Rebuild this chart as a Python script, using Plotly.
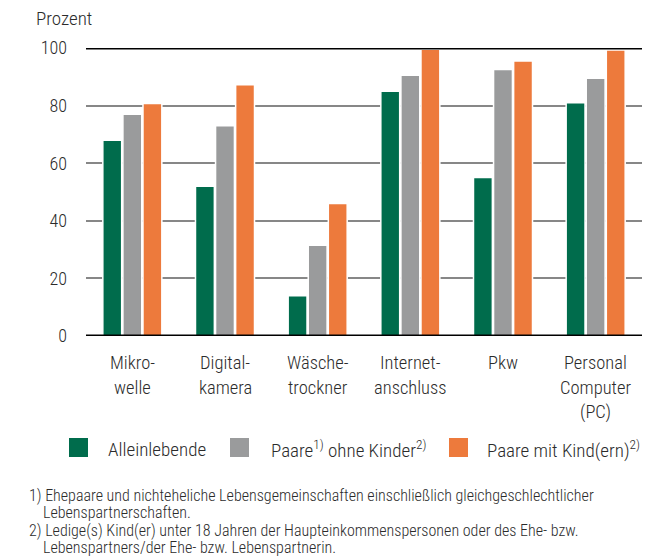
import plotly.graph_objects as go

categories = ["Mikrowelle", "Digitalkamera", "Wäschetrockner", "Internetanschluss", "Pkw", "Personal Computer (PC)"]
label_lines = [["Mikro-", "welle"], ["Digital-", "kamera"], ["Wäsche-", "trockner"],
               ["Internet-", "anschluss"], ["Pkw"], ["Personal", "Computer", "(PC)"]]
series_names = ["Alleinlebende", "Paare<sup>1)</sup> ohne Kinder<sup>2)</sup>", "Paare mit Kind(ern)<sup>2)</sup>"]
alleinlebende = [68, 52, 14, 85, 55, 81]
paare_ohne = [77, 73, 31.5, 90.5, 92.5, 89.5]
paare_mit = [80.7, 87.2, 46, 99.6, 95.5, 99.3]
y_ticks = [0, 20, 40, 60, 80, 100]
footnotes = [
    ("1) Ehepaare und nichteheliche Lebensgemeinschaften einschließlich gleichgeschlechtlicher", 0),
    ("Lebenspartnerschaften.", 1),
    ("2) Ledige(s) Kind(er) unter 18 Jahren der Haupteinkommenspersonen oder des Ehe- bzw.", 0),
    ("Lebenspartners/der Ehe- bzw. Lebenspartnerin.", 1),
]

colors = ["#006c4c", "#9a9b9c", "#ed7a3c"]
FONT = "Roboto Condensed, Open Sans, sans-serif"
TXT = "#2b2b2b"

W, H = 667, 559
L, R, T, B = 86, 25, 48, 223
pw, ph = W - L - R, H - T - B

def px_x(x):
    return (x - L) / pw

def px_y(y):
    return (H - B - y) / ph

def fnt(size):
    return dict(size=size, color=TXT, family=FONT, weight=300)

fig = go.Figure()
for name, vals, c in zip(series_names, [alleinlebende, paare_ohne, paare_mit], colors):
    fig.add_trace(go.Bar(x=categories, y=vals, name=name, showlegend=False,
                         marker=dict(color=c, line=dict(color="white", width=1.5))))

shapes = []
for yv in (0, 100):
    shapes.append(dict(type="line", xref="paper", yref="y", x0=0, x1=1, y0=yv, y1=yv,
                       line=dict(color="black", width=3), layer="above"))

annotations = [dict(text="Prozent", xref="paper", yref="paper", x=px_x(34), y=px_y(18.5),
                    xanchor="left", yanchor="middle", showarrow=False, font=fnt(19))]
for cat, lines in zip(categories, label_lines):
    for i, ln in enumerate(lines):
        annotations.append(dict(text=ln, xref="x", yref="paper", x=cat, y=px_y(363 + 24.5 * i),
                                xanchor="center", yanchor="middle", showarrow=False, font=fnt(18.5)))

# legend (custom, to match layout)
legend_box_x = [69, 230, 449]
legend_text_x = [105.5, 269, 485]
for name, c, bx, tx in zip(series_names, colors, legend_box_x, legend_text_x):
    shapes.append(dict(type="rect", xref="paper", yref="paper",
                       x0=px_x(bx), x1=px_x(bx + 19), y0=px_y(438), y1=px_y(457),
                       fillcolor=c, line=dict(width=0)))
    annotations.append(dict(text=name, xref="paper", yref="paper", x=px_x(tx), y=px_y(449),
                            xanchor="left", yanchor="middle", showarrow=False, font=fnt(19)))

for i, (ln, indent) in enumerate(footnotes):
    annotations.append(dict(text=ln, xref="paper", yref="paper",
                            x=px_x(27 if indent == 0 else 41), y=px_y(495 + 17.6 * i),
                            xanchor="left", yanchor="middle", showarrow=False, font=fnt(16)))

fig.update_layout(
    width=W, height=H,
    margin=dict(l=L, r=R, t=T, b=B, pad=0),
    paper_bgcolor="white", plot_bgcolor="white",
    barmode="group", bargap=0.35, bargroupgap=0.06,
    font=dict(family=FONT, size=18, color=TXT),
    showlegend=False,
    xaxis=dict(showticklabels=False, showgrid=False, zeroline=False, showline=False, ticks=""),
    yaxis=dict(range=[0, 100], tickvals=y_ticks, showgrid=True, gridcolor="#878787", gridwidth=2,
               zeroline=False, showline=False, ticks="", ticklabelstandoff=18,
               tickfont=fnt(18)),
    shapes=shapes,
    annotations=annotations,
)

fig.write_html("out.html", config={"displayModeBar": False},
               post_script="document.body.style.margin='0';document.body.style.overflow='hidden';")
